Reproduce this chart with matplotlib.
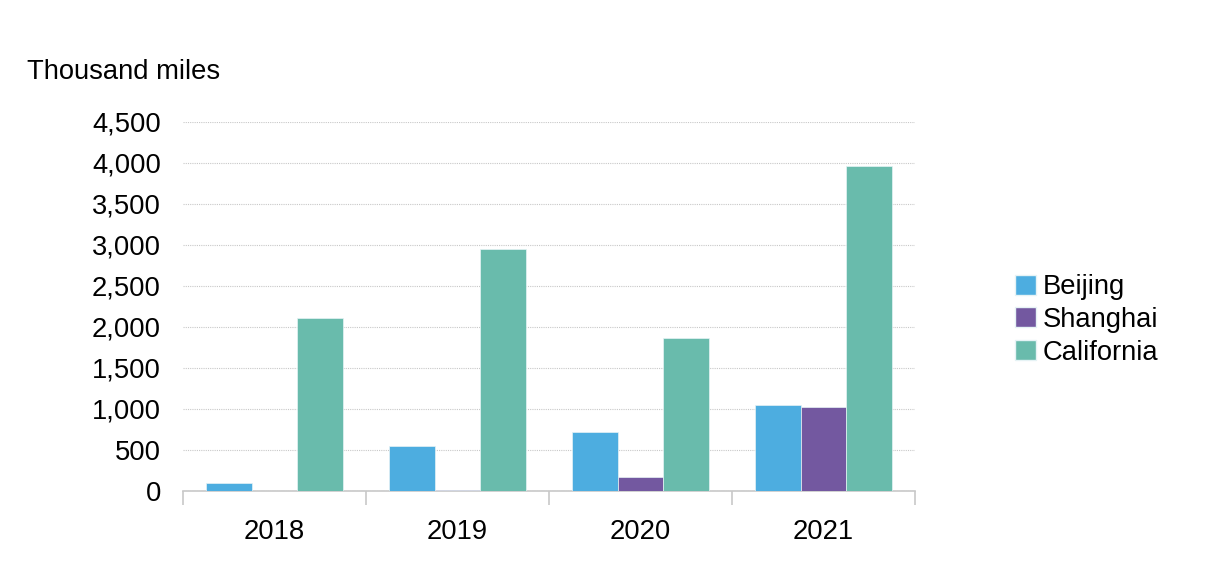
import numpy as np
import matplotlib.pyplot as plt
from matplotlib.ticker import FuncFormatter, MultipleLocator
from matplotlib.patches import Patch

years = ['2018', '2019', '2020', '2021']
beijing = [95, 550, 725, 1050]
shanghai = [0, 15, 168, 1022]
california = [2105, 2950, 1860, 3960]

series_names = ['Beijing', 'Shanghai', 'California']
colors = ['#4DADE0', '#7358A0', '#69BBAC']

plt.rcParams['font.family'] = ['Liberation Sans', 'DejaVu Sans']
fs = 19.7

fig = plt.figure(figsize=(12.22, 5.70), dpi=100)
ax = fig.add_axes([0.1498, 0.1386, 0.599, 0.6474])

x = np.arange(len(years))
w = 0.25
for i, (vals, c) in enumerate(zip([beijing, shanghai, california], colors)):
    ax.bar(x + (i - 1) * w, vals, width=w, color=c, edgecolor='#e6f3f5',
           linewidth=0.5, zorder=3)

ax.set_xlim(-0.5, len(years) - 0.5)
ax.set_ylim(0, 4500)
ax.yaxis.set_major_locator(MultipleLocator(500))
ax.yaxis.set_major_formatter(FuncFormatter(lambda v, p: f'{int(v):,}'))
ax.grid(axis='y', color='#c8c8c8', linestyle=(0, (1, 1)), linewidth=0.8, zorder=0)

for s in ['top', 'right', 'left']:
    ax.spines[s].set_visible(False)
ax.spines['bottom'].set_color('#c8c8c8')
ax.spines['bottom'].set_linewidth(1.2)

ax.set_xticks(x)
ax.set_xticklabels(years)
ax.set_xticks(np.arange(-0.5, len(years), 1.0), minor=True)
ax.tick_params(axis='x', which='major', length=0, pad=20, labelsize=fs)
ax.tick_params(axis='x', which='minor', length=10, color='#c8c8c8', width=1.2)
ax.tick_params(axis='y', length=0, pad=16, labelsize=fs)

fig.text(27 / 1222, 1 - 72 / 570, 'Thousand miles', fontsize=fs, va='center', ha='left')

handles = [Patch(facecolor=c, edgecolor='#e6f3f5', label=n) for c, n in zip(colors, series_names)]
fig.legend(handles=handles, loc='center left', bbox_to_anchor=(0.8306, 0.4386),
           frameon=False, fontsize=fs, handlelength=0.75, handleheight=0.75,
           handletextpad=0.25, labelspacing=0.25, borderpad=0, borderaxespad=0)

fig.savefig('out.png', dpi=100)
